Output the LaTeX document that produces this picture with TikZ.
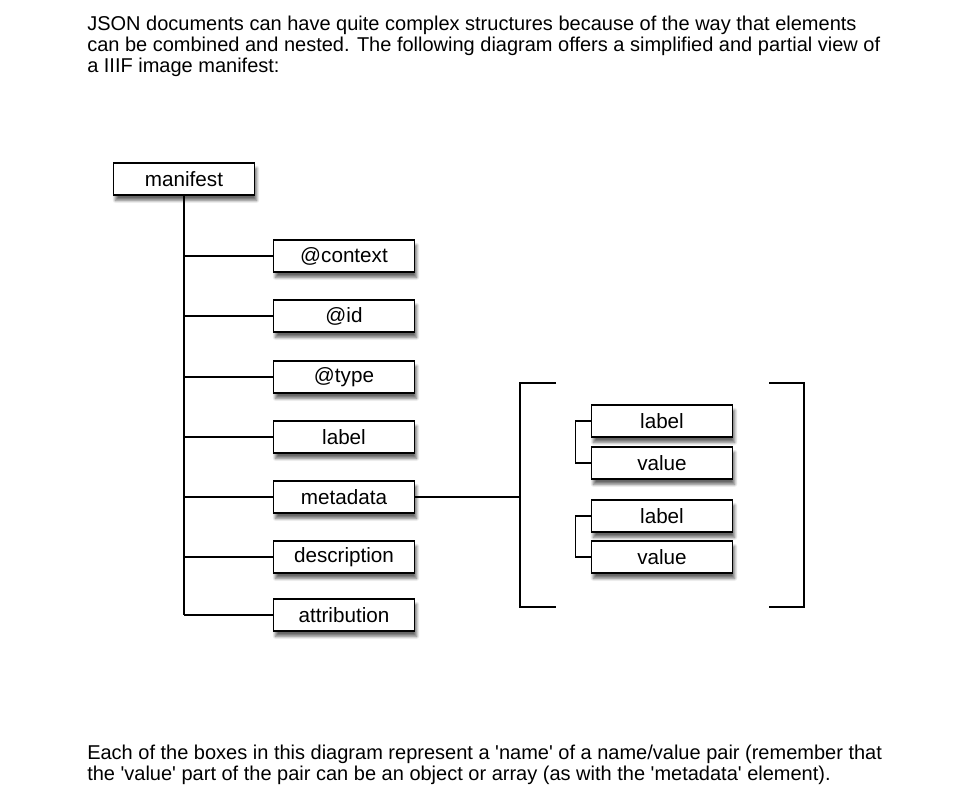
\documentclass[tikz,border=0pt]{standalone}
\usepackage{fontspec}
\setmainfont{Liberation Sans}
\usetikzlibrary{
  positioning,
  shadows.blur
}
\newcommand{\sq}{\textquotesingle}

\tikzset{
  keybox/.style={rectangle,draw=black,fill=white,line width=1.2pt,
    minimum width=106pt,minimum height=24pt,inner sep=0pt,
    font=\fontsize{15.5}{18}\selectfont,
    blur shadow={shadow xshift=1.5pt,shadow yshift=-4pt,shadow blur steps=8,shadow opacity=60}},
  link/.style={line width=1.1pt},
  prose/.style={anchor=north west,inner sep=0pt,align=left,font=\fontsize{15}{15.75}\selectfont}
}

\begin{document}
\begin{tikzpicture}[x=0.75pt,y=-0.75pt]
  \useasboundingbox (0,0) rectangle (956,795);
  \node[prose] (intro) at (87,16) {JSON documents can have quite complex structures because of the way that elements\\can be combined and nested. The following diagram offers a simplified and partial view of\\a IIIF image manifest:};
  \node[prose] (outro) at (87,745) {Each of the boxes in this diagram represent a \sq name\sq{} of a name/value pair (remember that\\the \sq value\sq{} part of the pair can be an object or array (as with the \sq metadata\sq{} element).};

  \node[keybox] (0) at (184,179) {manifest};
  \node[keybox] (1) at (344,256) {@context};
  \node[keybox] (2) at (344,316) {@id};
  \node[keybox] (3) at (344,377) {@type};
  \node[keybox] (4) at (344,437) {label};
  \node[keybox] (5) at (344,497) {metadata};
  \node[keybox] (6) at (344,557) {description};
  \node[keybox] (7) at (344,615) {attribution};
  \draw[link] (0.south) -- (0.south |- 7.west);
  \foreach \i in {1,...,7}
    \draw[link] (0.south |- \i.west) -- (\i.west);

  % the metadata array
  \coordinate (arr) at (520,497);
  \draw[link] (556,383) -| (520,607) -- (556,607);
  \draw[link] (769,383) -| (804,607) -- (769,607);
  \draw[link] (5.east) -- (arr);
  \node[keybox] (8) at (662,421) {label};
  \node[keybox] (9) at (662,463) {value};
  \node[keybox] (10) at (662,516) {label};
  \node[keybox] (11) at (662,557) {value};
  \draw[link] (8.west) -- ++(-15,0) |- (9.west);
  \draw[link] (10.west) -- ++(-15,0) |- (11.west);
\end{tikzpicture}
\end{document}
